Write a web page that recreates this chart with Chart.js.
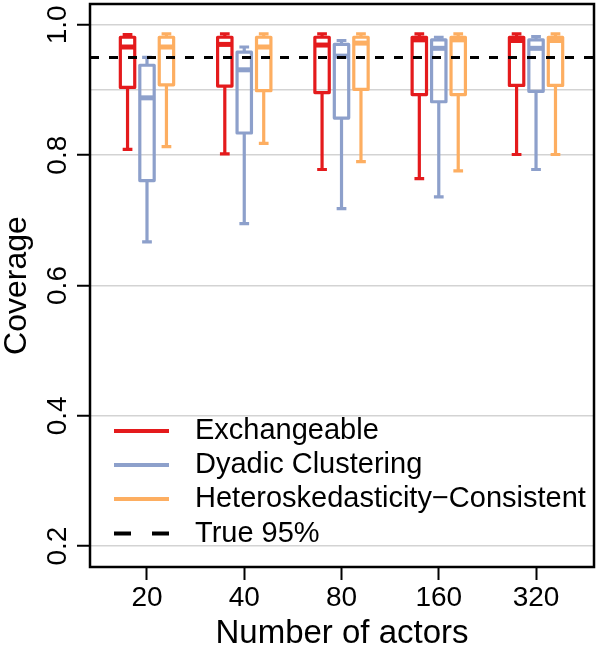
<!DOCTYPE html>
<html>
<head>
<meta charset="utf-8">
<script src="https://cdn.jsdelivr.net/npm/chart.js@4.4.1/dist/chart.umd.min.js"></script>
<style>
  body { margin: 0; background: #fff; }
  #wrap { width: 600px; height: 659px; }
</style>
</head>
<body>
<div id="wrap"><canvas id="coverage-chart" width="600" height="659"></canvas></div>
<script>
// number of actors (groups on the x axis)
const categories = ['20', '40', '80', '160', '320'];

// per group: [lower whisker, Q1, median, Q3, upper whisker]
const exchangeable = [
    [0.809, 0.904, 0.966, 0.981, 0.985],
    [0.802, 0.906, 0.970, 0.981, 0.986],
    [0.778, 0.896, 0.969, 0.981, 0.986],
    [0.764, 0.893, 0.977, 0.981, 0.986],
    [0.801, 0.907, 0.976, 0.981, 0.986]
];
const dyadic = [
    [0.667, 0.761, 0.888, 0.938, 0.950],
    [0.695, 0.834, 0.931, 0.958, 0.966],
    [0.718, 0.857, 0.952, 0.970, 0.976],
    [0.736, 0.882, 0.964, 0.977, 0.981],
    [0.778, 0.898, 0.964, 0.977, 0.982]
];
const heteroskedastic = [
    [0.813, 0.908, 0.966, 0.981, 0.986],
    [0.818, 0.899, 0.966, 0.981, 0.986],
    [0.790, 0.901, 0.972, 0.981, 0.986],
    [0.776, 0.893, 0.977, 0.981, 0.986],
    [0.801, 0.907, 0.976, 0.981, 0.986]
];

const seriesNames = ['Exchangeable', 'Dyadic Clustering', 'Heteroskedasticity\u2212Consistent'];
const seriesColors = ['#E41A1C', '#8DA0CB', '#FDAE61'];
const seriesOffsets = [-0.2, 0, 0.2];
const trueLevel = 0.95;
const yTicks = [0.2, 0.4, 0.6, 0.8, 0.9, 1.0];

const xMin = 0.414, xMax = 5.596;
const FONT = "'Liberation Sans', Arial, Helvetica, sans-serif";

const allSeries = [exchangeable, dyadic, heteroskedastic];

// box plots drawn through the chart scales
const boxPlugin = {
    id: 'boxes',
    beforeDatasetsDraw(chart) {
        const ctx = chart.ctx;
        const xs = chart.scales.x, ys = chart.scales.y;
        const halfBox = 0.074, halfCap = 0.05;
        ctx.save();
        allSeries.forEach((series, s) => {
            ctx.strokeStyle = seriesColors[s];
            series.forEach((st, g) => {
                const c = g + 1 + seriesOffsets[s];
                const xl = xs.getPixelForValue(c - halfBox);
                const xr = xs.getPixelForValue(c + halfBox);
                const xc = xs.getPixelForValue(c);
                const cl = xs.getPixelForValue(c - halfCap);
                const cr = xs.getPixelForValue(c + halfCap);
                const [lo, q1, med, q3, hi] = st.map(v => ys.getPixelForValue(v));
                ctx.lineCap = 'butt';
                ctx.lineJoin = 'round';
                ctx.lineWidth = 3.2;
                // whiskers
                ctx.beginPath();
                ctx.moveTo(xc, lo); ctx.lineTo(xc, q1);
                ctx.moveTo(xc, q3); ctx.lineTo(xc, hi);
                ctx.moveTo(cl, lo); ctx.lineTo(cr, lo);
                ctx.moveTo(cl, hi); ctx.lineTo(cr, hi);
                ctx.stroke();
                // box
                ctx.strokeRect(xl, q3, xr - xl, q1 - q3);
                // median
                ctx.lineWidth = 5;
                ctx.beginPath();
                ctx.moveTo(xl, med); ctx.lineTo(xr, med);
                ctx.stroke();
            });
        });
        ctx.restore();
    }
};

// frame and legend
const framePlugin = {
    id: 'frame',
    afterDraw(chart) {
        const ctx = chart.ctx;
        const a = chart.chartArea;
        ctx.save();
        ctx.strokeStyle = '#000';
        ctx.lineWidth = 2.5;
        ctx.strokeRect(a.left, a.top, a.right - a.left, a.bottom - a.top);

        const rows = [431, 465, 499, 533.5];
        const x0 = 114, x1 = 169, tx = 195;
        ctx.font = '29px ' + FONT;
        ctx.textBaseline = 'middle';
        ctx.textAlign = 'left';
        ctx.lineWidth = 4;
        ctx.lineCap = 'butt';
        seriesNames.concat(['True 95%']).forEach((name, i) => {
            ctx.strokeStyle = i < 3 ? seriesColors[i] : '#000';
            ctx.setLineDash(i < 3 ? [] : [17, 21]);
            ctx.beginPath();
            ctx.moveTo(x0, rows[i]);
            ctx.lineTo(x1, rows[i]);
            ctx.stroke();
            ctx.fillStyle = '#000';
            ctx.fillText(name, tx, rows[i]);
        });
        ctx.restore();
    }
};

const datasets = allSeries.map((series, s) => ({
    label: seriesNames[s],
    data: series.map((st, g) => ({ x: g + 1 + seriesOffsets[s], y: st[2] })),
    pointRadius: 0,
    showLine: false,
    borderColor: seriesColors[s]
}));
datasets.push({
    type: 'line',
    label: 'True 95%',
    data: [{ x: xMin, y: trueLevel }, { x: xMax, y: trueLevel }],
    borderColor: '#000',
    borderWidth: 3,
    borderDash: [9, 10],
    pointRadius: 0,
    fill: false
});

const ctx = document.getElementById('coverage-chart').getContext('2d');
new Chart(ctx, {
    type: 'scatter',
    data: { datasets: datasets },
    options: {
        responsive: false,
        animation: false,
        devicePixelRatio: 1,
        layout: { padding: { top: 4, right: 6, left: 0, bottom: 0 } },
        plugins: {
            legend: { display: false },
            tooltip: { enabled: false }
        },
        scales: {
            x: {
                type: 'linear',
                min: xMin,
                max: xMax,
                afterBuildTicks: scale => { scale.ticks = categories.map((c, i) => ({ value: i + 1 })); },
                afterFit: scale => { scale.height = 92; scale.paddingLeft = 0; scale.paddingRight = 0; },
                border: { display: false },
                grid: { drawOnChartArea: false, drawTicks: true, tickLength: 13, tickColor: '#000', tickWidth: 2 },
                ticks: {
                    padding: 1,
                    color: '#000',
                    font: { family: FONT, size: 28 },
                    maxRotation: 0,
                    autoSkip: false,
                    callback: value => categories[Math.round(value) - 1]
                },
                title: {
                    display: true,
                    text: 'Number of actors',
                    color: '#000',
                    font: { family: FONT, size: 33 },
                    padding: { top: 0, bottom: 5 }
                }
            },
            y: {
                min: 0.168,
                max: 1.032,
                afterBuildTicks: scale => { scale.ticks = yTicks.map(v => ({ value: v })); },
                afterFit: scale => { scale.width = 90; scale.paddingTop = 0; scale.paddingBottom = 0; },
                border: { display: false },
                grid: {
                    color: '#d3d3d3',
                    lineWidth: 1.5,
                    drawTicks: true,
                    tickLength: 13,
                    tickWidth: 2,
                    tickColor: c => (c.tick && c.tick.value === 0.9) ? 'rgba(0,0,0,0)' : '#000'
                },
                ticks: {
                    minRotation: 90,
                    maxRotation: 90,
                    crossAlign: 'center',
                    padding: -1,
                    color: '#000',
                    font: { family: FONT, size: 28 },
                    autoSkip: false,
                    callback: value => value === 0.9 ? '' : value.toFixed(1)
                },
                title: {
                    display: true,
                    text: 'Coverage',
                    color: '#000',
                    font: { family: FONT, size: 32 },
                    padding: { top: -2, bottom: 0 }
                }
            }
        }
    },
    plugins: [boxPlugin, framePlugin]
});
</script>
</body>
</html>
